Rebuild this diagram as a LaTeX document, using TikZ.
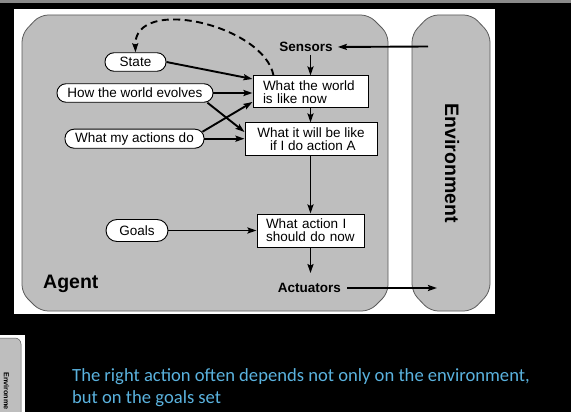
\documentclass[tikz,border=0pt]{standalone}
\usepackage{fontspec}
\setmainfont{Liberation Sans}
\newfontfamily\capfont{Carlito}
\usetikzlibrary{arrows.meta,calc}
\definecolor{agentgray}{HTML}{BEBEBE}
\definecolor{edgegray}{HTML}{5A5A5A}
\definecolor{captionblue}{HTML}{5AB2DE}
\definecolor{stripegray}{HTML}{8A8A8A}
\begin{document}
\begin{tikzpicture}[x=1pt,y=-1pt,
  oval/.style={draw=black,line width=0.9pt,fill=white,rounded corners=9pt,minimum height=18.5pt,inner sep=0pt,font=\fontsize{13.5}{13.5}\selectfont},
  box/.style={draw=black,line width=1pt,fill=white,minimum height=32pt,inner ysep=2pt,font=\fontsize{13.5}{13.3}\selectfont},
  lbl/.style={inner sep=0pt,font=\bfseries\fontsize{13.5}{13.5}\selectfont},
  arr/.style={line width=1.9pt,-{Stealth[length=9pt,width=6pt,inset=1.5pt]}},
  shell/.style={fill=agentgray,draw=edgegray,line width=0.8pt,rounded corners=8pt},
]
\useasboundingbox (0,0) rectangle (571,412);
\fill[black] (0,0) rectangle (571,412);
\fill[stripegray] (0,0) rectangle (571,2.7);
\fill[white] (14,9) rectangle (495,314);
% agent and environment shells
\draw[shell] (22,34) -- (40,15) -- (369,15) -- (388,34) -- (388,293) -- (370,311) -- (40,311) -- (22,293) -- cycle;
\draw[shell] (412,34) -- (430,15) -- (472,15) -- (490,34) -- (490,292) -- (472,311) -- (430,311) -- (412,292) -- cycle;
\node[rotate=-90,inner sep=0pt,font=\bfseries\fontsize{19.5}{19.5}\selectfont] (envlabel) at (452,163) {Environment};
\node[anchor=base west,inner sep=0pt,font=\bfseries\fontsize{19.5}{19.5}\selectfont] (agentlabel) at (43,288) {Agent};
% left ovals
\node[oval,minimum width=61pt] (state) at (135.5,62) {State};
\node[oval,minimum width=156pt] (hwe) at (135,93) {How the world evolves};
\node[oval,minimum width=139pt,minimum height=19pt] (wmad) at (134.5,138.7) {What my actions do};
\node[oval,minimum width=62pt,minimum height=22pt,rounded corners=11pt] (goals) at (137,230.5) {Goals};
% boxes
\node[box,text width=95pt,inner xsep=10pt,align=left] (box1) at (310.5,92) {What the world\\is like now};
\node[box,minimum width=132pt,align=center] (box2) at (311,139) {What it will be like\\\ if I do action A};
\node[box,text width=89pt,inner xsep=9pt,align=left,minimum height=33pt] (box3) at (310.5,230.5) {What action I\\should do now};
% sensors / actuators
\node[lbl] (sensors) at (306,47) {Sensors};
\node[lbl] (act) at (309.5,288) {Actuators};
\coordinate (envS) at (428,46.5);
\coordinate (envA) at (437,288);
% connectors
\draw[arr,shorten >=5pt] (envS) -- (sensors.east);
\draw[arr,shorten <=3pt] (box1.north |- sensors.south) -- (box1.north);
\draw[arr] (box1.south) -- (box1.south |- box2.north);
\draw[arr] (box1.south |- box2.south) -- (box1.south |- box3.north);
\draw[arr,shorten >=10pt] (box1.south |- box3.south) -- (box1.south |- act.north);
\draw[arr,shorten <=6pt] (act.east) -- (envA);
\draw[arr] (state.east) -- ([yshift=13pt]box1.west);
\draw[arr] (hwe.east) -- (hwe.east -| box1.west);
\draw[arr] ([xshift=-6pt]hwe.south east) -- ([yshift=7pt]box2.west);
\draw[arr] ([xshift=-2pt,yshift=-3pt]wmad.north east) -- ([yshift=-10pt]box1.west);
\draw[arr] (wmad.east) -- (wmad.east -| box2.west);
\draw[arr] (goals.east) -- (goals.east -| box3.west);
\draw[line width=1.9pt,dash pattern=on 7pt off 4.5pt,-{Stealth[length=9pt,width=6pt,inset=1.5pt]}] ([xshift=-37pt]box1.north) .. controls (264,25) and (134,-5) .. (state.north);
% caption
\node[anchor=base west,inner sep=0pt,text=captionblue,font=\capfont\fontsize{18.6}{22}\selectfont] (cap1) at (72,381) {The right action often depends not only on the environment,};
\node[anchor=base west,inner sep=0pt,text=captionblue,font=\capfont\fontsize{18.6}{22}\selectfont] (cap2) at (72,403) {but on the goals set};
% thumbnail fragment
\fill[white] (0,335) rectangle (25,412);
\begin{scope}
\clip (0,335) rectangle (25,412);
\draw[fill=agentgray,draw=edgegray,line width=0.5pt,rounded corners=6pt] (-10,338) -- (21,338) -- (21,440) -- (-10,440) -- cycle;
\end{scope}
\node[rotate=-90,anchor=west,inner sep=0pt,font=\bfseries\fontsize{7.3}{7.3}\selectfont] (thumblabel) at (6.5,372) {Environme};
\end{tikzpicture}
\end{document}
